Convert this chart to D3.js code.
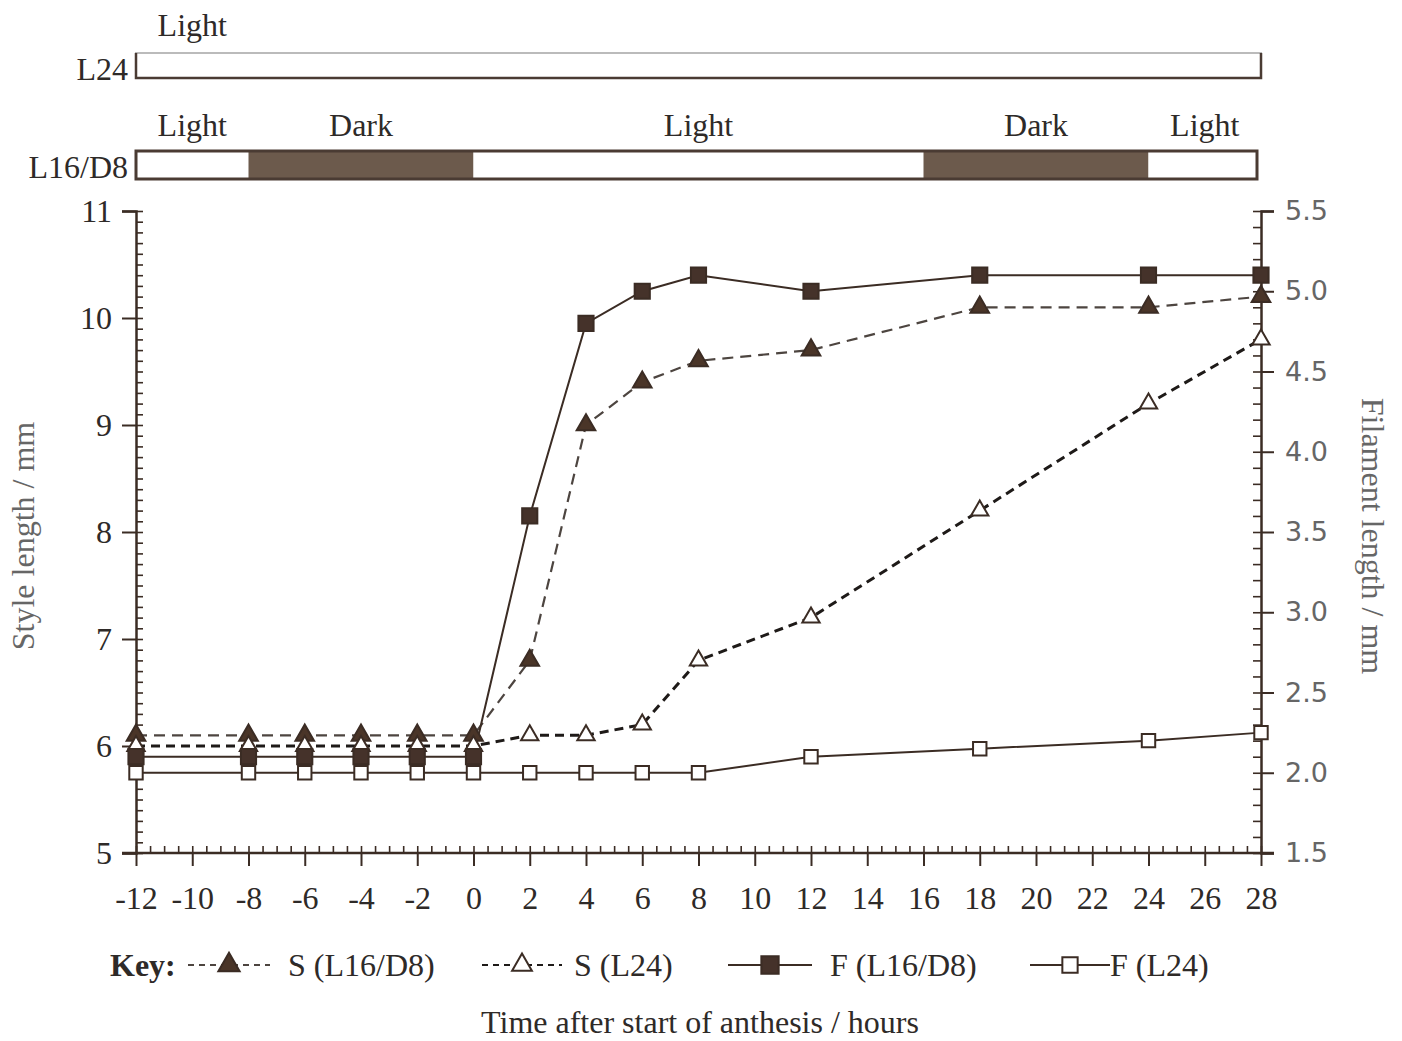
<!DOCTYPE html>
<html>
<head>
<meta charset="utf-8">
<script src="https://cdn.jsdelivr.net/npm/d3@7"></script>
<style>
  body { margin: 0; background: #fff; }
  svg { display: block; font-family: "Liberation Serif", "DejaVu Serif", serif; }
</style>
</head>
<body>
<div id="chart"></div>
<script>
// time after start of anthesis (hours)
const hours = [-12, -8, -6, -4, -2, 0, 2, 4, 6, 8, 12, 18, 24, 28]
// style length (mm), left axis
const styleL16D8 = [6.1, 6.1, 6.1, 6.1, 6.1, 6.1, 6.8, 9.0, 9.4, 9.6, 9.7, 10.1, 10.1, 10.2]
const styleL24 = [6.0, 6.0, 6.0, 6.0, 6.0, 6.0, 6.1, 6.1, 6.2, 6.8, 7.2, 8.2, 9.2, 9.8]
// filament length (mm), right axis
const filL16D8 = [2.1, 2.1, 2.1, 2.1, 2.1, 2.1, 3.6, 4.8, 5.0, 5.1, 5.0, 5.1, 5.1, 5.1]
const filL24 = [2.0, 2.0, 2.0, 2.0, 2.0, 2.0, 2.0, 2.0, 2.0, 2.0, 2.1, 2.15, 2.2, 2.25]

// photoperiod bars
const phaseStart = [-12, -8, 0, 16, 24]
const phaseEnd = [-8, 0, 16, 24, 28]
const phaseType = ['Light', 'Dark', 'Light', 'Dark', 'Light']

const xTicks = [-12, -10, -8, -6, -4, -2, 0, 2, 4, 6, 8, 10, 12, 14, 16, 18, 20, 22, 24, 26, 28]
const leftTicks = [5, 6, 7, 8, 9, 10, 11]
const rightTicks = [1.5, 2.0, 2.5, 3.0, 3.5, 4.0, 4.5, 5.0, 5.5]

const W = 1402, H = 1041
const ink = '#3b2c24'
const txtColor = '#2e2a28'

const svg = d3.select('#chart').append('svg').attr('width', W).attr('height', H)

const x = d3.scaleLinear().domain([-12, 28]).range([136, 1261])
const yL = d3.scaleLinear().domain([5, 11]).range([853, 211])
const yR = d3.scaleLinear().domain([1.5, 5.5]).range([853, 211])

// ---- photoperiod bars ----
const periodG = svg.append('g').attr('class', 'photoperiod')
periodG.append('rect').attr('x', x(-12)).attr('y', 53).attr('width', x(28) - x(-12)).attr('height', 25)
  .attr('fill', '#fff').attr('stroke', '#bbb').attr('stroke-width', 2)
periodG.append('path').attr('d', `M${x(-12)},53V78H${x(28)}V53`).attr('fill', 'none')
  .attr('stroke', '#4a3b33').attr('stroke-width', 2.5)
periodG.append('text').attr('x', x(-10)).attr('y', 36).attr('text-anchor', 'middle')
  .attr('font-size', 32).attr('fill', txtColor).text('Light')
periodG.append('text').attr('x', 128).attr('y', 80).attr('text-anchor', 'end')
  .attr('font-size', 32).attr('fill', txtColor).text('L24')

const barY = 151, barH = 28
periodG.selectAll('rect.phase').data(phaseType).enter().append('rect').attr('class', 'phase')
  .attr('x', (d, i) => x(phaseStart[i]))
  .attr('y', barY)
  .attr('width', (d, i) => x(phaseEnd[i]) - x(phaseStart[i]) - (i === phaseType.length - 1 ? 4 : 0))
  .attr('height', barH)
  .attr('fill', d => d === 'Dark' ? '#6c5a4c' : '#fff')
periodG.append('rect').attr('x', x(-12)).attr('y', barY).attr('width', x(28) - x(-12) - 4).attr('height', barH)
  .attr('fill', 'none').attr('stroke', '#4a3b33').attr('stroke-width', 3)
periodG.selectAll('text.phase').data(phaseType).enter().append('text').attr('class', 'phase')
  .attr('x', (d, i) => x((phaseStart[i] + phaseEnd[i]) / 2))
  .attr('y', 136).attr('text-anchor', 'middle')
  .attr('font-size', 32).attr('fill', txtColor).text(d => d)
periodG.append('text').attr('x', 128).attr('y', 178).attr('text-anchor', 'end')
  .attr('font-size', 32).attr('fill', txtColor).text('L16/D8')

// ---- axes ----
function styleAxis(g) {
  g.select('.domain').attr('stroke', ink).attr('stroke-width', 2.5)
  g.selectAll('.tick line').attr('stroke', ink).attr('stroke-width', 2)
}

// left
const gL = svg.append('g').attr('transform', `translate(${x(-12)},0)`)
  .call(d3.axisLeft(yL).tickValues(leftTicks).tickSize(14).tickPadding(10).tickFormat(d => String(d)))
gL.call(styleAxis)
gL.selectAll('.tick text').attr('font-size', 32).attr('fill', txtColor).attr('font-family', 'Liberation Serif')
svg.append('g').attr('transform', `translate(${x(-12)},0)`)
  .call(d3.axisRight(yL).tickValues(d3.range(50, 111).map(v => v / 10)).tickSize(7).tickFormat(''))
  .call(g => { g.select('.domain').remove(); g.selectAll('.tick line').attr('stroke', ink).attr('stroke-width', 1.6) })

// right
const gR = svg.append('g').attr('transform', `translate(${x(28)},0)`)
  .call(d3.axisRight(yR).tickValues(rightTicks).tickSize(13).tickPadding(11).tickFormat(d3.format('.1f')))
gR.call(styleAxis)
gR.selectAll('.tick text').attr('font-size', 27).attr('fill', '#666').attr('font-family', 'DejaVu Sans')
svg.append('g').attr('transform', `translate(${x(28)},0)`)
  .call(d3.axisLeft(yR).tickValues(d3.range(15, 56).map(v => v / 10)).tickSize(8).tickFormat(''))
  .call(g => { g.select('.domain').remove(); g.selectAll('.tick line').attr('stroke', ink).attr('stroke-width', 1.6) })

// bottom
const gB = svg.append('g').attr('transform', `translate(0,${yL(5)})`)
  .call(d3.axisBottom(x).tickValues(xTicks).tickSize(13).tickPadding(20).tickFormat(d => String(d)))
gB.call(styleAxis)
gB.select('.domain').attr('d', `M${x(-12) - 14},0H${x(28) + 13}`)
gB.selectAll('.tick text').attr('font-size', 32).attr('fill', txtColor).attr('font-family', 'Liberation Serif')
svg.append('g').attr('transform', `translate(0,${yL(5)})`)
  .call(d3.axisTop(x).tickValues(d3.range(-24, 57).map(v => v / 2)).tickSize(7).tickFormat(''))
  .call(g => { g.select('.domain').remove(); g.selectAll('.tick line').attr('stroke', ink).attr('stroke-width', 1.6) })

// axis titles
svg.append('text').attr('transform', `translate(34,536) rotate(-90)`).attr('text-anchor', 'middle')
  .attr('font-size', 32).attr('fill', '#666').text('Style length / mm')
svg.append('text').attr('transform', `translate(1362,536) rotate(90)`).attr('text-anchor', 'middle')
  .attr('font-size', 32).attr('fill', '#666').text('Filament length / mm')
svg.append('text').attr('x', 700).attr('y', 1033).attr('text-anchor', 'middle')
  .attr('font-size', 32).attr('fill', txtColor).text('Time after start of anthesis / hours')

// ---- series ----
const series = [
  { name: 'S (L16/D8)', vals: styleL16D8, y: yL, dash: '11,7', stroke: '#4d4540', sw: 2.2, sym: d3.symbolTriangle, fill: '#4a3528', size: 150 },
  { name: 'S (L24)', vals: styleL24, y: yL, dash: '9,6', stroke: '#1e1a18', sw: 3, sym: d3.symbolTriangle, fill: '#fff', size: 130 },
  { name: 'F (L16/D8)', vals: filL16D8, y: yR, dash: null, stroke: ink, sw: 2, sym: d3.symbolSquare, fill: '#45322a', size: 230 },
  { name: 'F (L24)', vals: filL24, y: yR, dash: null, stroke: ink, sw: 2, sym: d3.symbolSquare, fill: '#fff', size: 180 }
]

const plot = svg.append('g').attr('class', 'plot')
series.forEach(s => {
  const line = d3.line().x((d, i) => x(hours[i])).y(d => s.y(d))
  plot.append('path').datum(s.vals).attr('d', line).attr('fill', 'none')
    .attr('stroke', s.stroke).attr('stroke-width', s.sw).attr('stroke-dasharray', s.dash)
})
series.forEach(s => {
  plot.selectAll(null).data(s.vals).enter().append('path')
    .attr('transform', (d, i) => `translate(${x(hours[i])},${s.y(d)})`)
    .attr('d', d3.symbol().type(s.sym).size(s.size))
    .attr('fill', s.fill).attr('stroke', ink).attr('stroke-width', 2)
})

// ---- legend ----
const leg = svg.append('g').attr('class', 'legend')
leg.append('text').attr('x', 110).attr('y', 976).attr('font-size', 32).attr('font-weight', 'bold')
  .attr('fill', txtColor).text('Key:')
const legLine = [[188, 270], [482, 562], [728, 812], [1030, 1110]]
const legText = [288, 574, 830, 1110]
series.forEach((s, i) => {
  const [x0, x1] = legLine[i], ly = 965
  leg.append('line').attr('x1', x0).attr('x2', x1).attr('y1', ly).attr('y2', ly)
    .attr('stroke', s.stroke).attr('stroke-width', 2).attr('stroke-dasharray', s.dash ? '6,5' : null)
  leg.append('path').attr('transform', `translate(${(x0 + x1) / 2},${ly})`)
    .attr('d', d3.symbol().type(s.sym).size(s.size * 1.3))
    .attr('fill', s.fill).attr('stroke', ink).attr('stroke-width', 2)
  leg.append('text').attr('x', legText[i]).attr('y', ly + 11).attr('font-size', 32)
    .attr('fill', txtColor).text(s.name)
})
</script>
</body>
</html>
